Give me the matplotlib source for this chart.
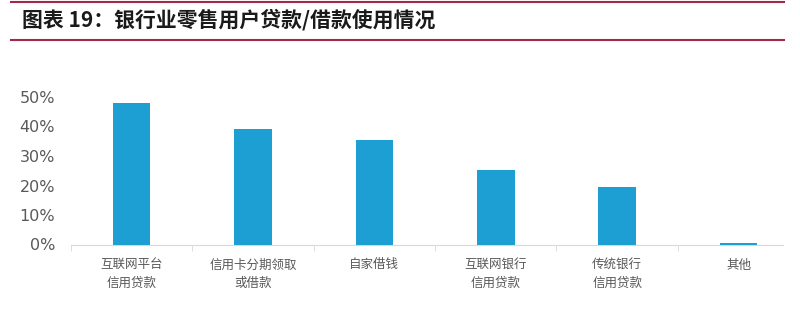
import matplotlib
matplotlib.use("Agg")
import matplotlib.pyplot as plt
from matplotlib.lines import Line2D

plt.rcParams['font.family'] = ['Noto Sans CJK SC', 'DejaVu Sans']

categories = ["互联网平台\n信用贷款", "信用卡分期领取\n或借款", "自家借钱",
              "互联网银行\n信用贷款", "传统银行\n信用贷款", "其他"]
values = [47.9, 39.2, 35.5, 25.4, 19.6, 0.6]
yticks = [0, 10, 20, 30, 40, 50]
title = "图表 19：银行业零售用户贷款/借款使用情况"

W, H = 800, 319
fig = plt.figure(figsize=(W / 100, H / 100), dpi=100)

def fx(px):
    return px / W

def fy(py):
    return 1 - py / H

red = "#A3284A"
fig.add_artist(Line2D([fx(11), fx(784)], [fy(1.5), fy(1.5)], color=red, lw=1.5))
fig.add_artist(Line2D([fx(11), fx(784)], [fy(39.5), fy(39.5)], color=red, lw=1.5))
fig.text(fx(22), fy(20), title, fontsize=15, fontweight='bold', color="#1a1a1a",
         ha='left', va='center')

ax = fig.add_axes([fx(71), fy(244.5), fx(799.2) - fx(71), fy(97) - fy(244.5)])
x = list(range(len(categories)))
ax.bar(x, values, width=0.31, color="#1E9FD4", clip_on=False, zorder=3)
ax.set_xlim(-0.5, 5.5)
ax.set_ylim(0, 50)
ax.set_yticks(yticks)
ax.set_yticklabels([f"{v}%" for v in yticks])
ax.tick_params(axis='y', length=0, pad=11.5, labelsize=11.5, labelcolor="#595959",
               labelfontfamily='DejaVu Sans')
for s in ['top', 'right', 'left']:
    ax.spines[s].set_visible(False)
ax.spines['bottom'].set_color("#d9d9d9")
ax.spines['bottom'].set_bounds(-0.5, 5.37)
ax.set_xticks(x)
ax.set_xticklabels(categories, fontsize=9, color="#595959", linespacing=1.55)
ax.tick_params(axis='x', length=0, pad=10)
ax.set_xticks([i + 0.5 for i in range(-1, 5)], minor=True)
ax.tick_params(axis='x', which='minor', length=4, color="#d9d9d9")

fig.savefig("out.png", dpi=100)
